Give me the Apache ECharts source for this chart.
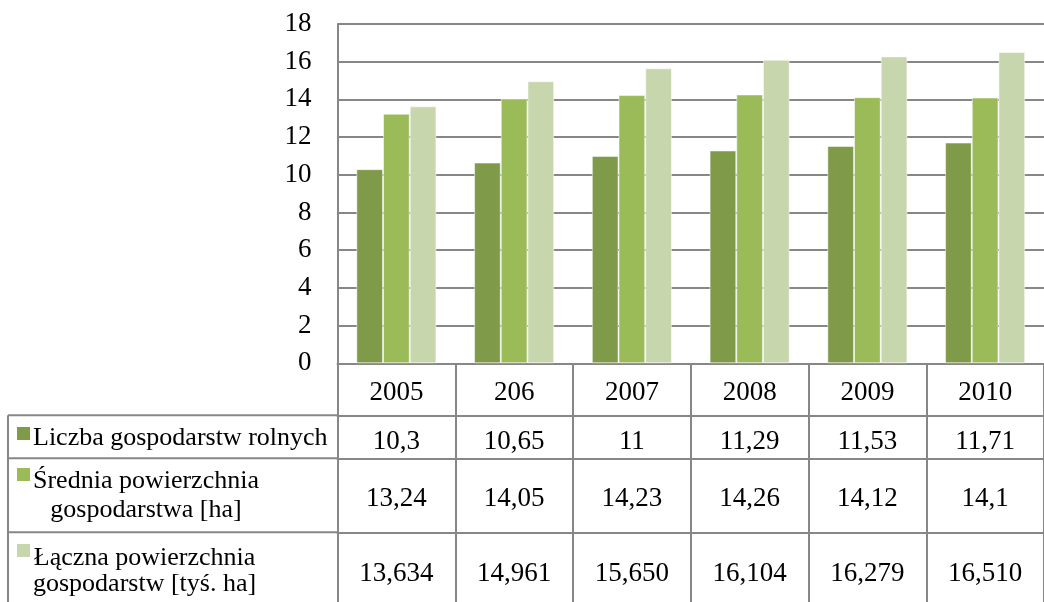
<!DOCTYPE html>
<html>
<head>
<meta charset="utf-8">
<script src="https://cdn.jsdelivr.net/npm/echarts@6/dist/echarts.min.js"></script>
<style>
html,body{margin:0;padding:0;background:#fff;}
#chart{width:1044px;height:602px;}
</style>
</head>
<body>
<div id="chart"></div>
<script>
// ---- data ----
const categories = ['2005', '206', '2007', '2008', '2009', '2010'];
const seriesNames = ['Liczba gospodarstw rolnych', 'Średnia powierzchnia gospodarstwa [ha]', 'Łączna powierzchnia gospodarstw [tyś. ha]'];
const rowLabelLines = [
  ['Liczba gospodarstw rolnych'],
  ['Średnia powierzchnia', 'gospodarstwa [ha]'],
  ['Łączna powierzchnia', 'gospodarstw [tyś. ha]']
];
const liczba = [10.3, 10.65, 11, 11.29, 11.53, 11.71];
const srednia = [13.24, 14.05, 14.23, 14.26, 14.12, 14.1];
const laczna = [13.634, 14.961, 15.650, 16.104, 16.279, 16.510];
const decimals = [null, null, 3];
const yTicks = [0, 2, 4, 6, 8, 10, 12, 14, 16, 18];

// ---- style / layout ----
const FONT = '"Liberation Serif", "Times New Roman", serif';
const FS = 26;      // row label text
const FSN = 27;     // numbers / years
const colors = ['#7F9A48', '#9BBB59', '#C7D6AD'];
const LINE = '#878787';
const GRID_LEFT = 337.5, GRID_TOP = 24, GRID_BOTTOM_Y = 363.3, GRID_RIGHT_X = 1051;
const rowTopOffsets = [52, 95, 169];      // row top line offset below axis
const rowLabelMargins = [26.5, 40.3, 41.3];
const TABLE_LEFT = 8;

const seriesData = [liczba, srednia, laczna];
function fmt(v, d) {
  const s = d == null ? String(v) : v.toFixed(d);
  return s.replace('.', ',');
}

const chart = echarts.init(document.getElementById('chart'), null, {renderer: 'canvas'});

const xAxes = [{
  type: 'category',
  data: categories,
  gridIndex: 0,
  position: 'bottom',
  boundaryGap: true,
  axisLine: {show: true, lineStyle: {color: LINE, width: 2}},
  axisTick: {show: true, interval: 0, length: 270, lineStyle: {color: LINE, width: 2}},
  axisLabel: {interval: 0, margin: 30, verticalAlign: 'middle', color: '#000', fontFamily: FONT, fontSize: FSN}
}];
seriesData.forEach((arr, i) => {
  xAxes.push({
    type: 'category',
    data: arr.map(v => fmt(v, decimals[i])),
    gridIndex: 0,
    position: 'bottom',
    offset: rowTopOffsets[i],
    boundaryGap: true,
    axisLine: {show: true, lineStyle: {color: LINE, width: 2}},
    axisTick: {show: false},
    axisLabel: {interval: 0, margin: rowLabelMargins[i], verticalAlign: 'middle', color: '#000', fontFamily: FONT, fontSize: FSN}
  });
});

const gridBottom = 602 - GRID_BOTTOM_Y;

// row label graphics
function measure(text) {
  const c = document.createElement('canvas').getContext('2d');
  c.font = FS + 'px ' + FONT;
  return c.measureText(text).width;
}
const TEXT_LEFT = 33;
const lineMiddles = [[438], [481.5, 509.8], [558, 584.6]];
const keyTops = [427, 468, 544];
const graphics = [];
const rowTopsY = rowTopOffsets.map(o => GRID_BOTTOM_Y + o);
rowTopsY.forEach(y => {
  graphics.push({type: 'line', shape: {x1: TABLE_LEFT, y1: y, x2: GRID_LEFT, y2: y}, style: {stroke: LINE, lineWidth: 2}});
});
graphics.push({type: 'line', shape: {x1: TABLE_LEFT, y1: rowTopsY[0], x2: TABLE_LEFT, y2: 640}, style: {stroke: LINE, lineWidth: 2}});
rowLabelLines.forEach((lines, i) => {
  graphics.push({type: 'rect', shape: {x: 17, y: keyTops[i], width: 13, height: 13}, style: {fill: colors[i]}});
  const w = Math.max.apply(null, lines.map(measure));
  const cx = TEXT_LEFT + w / 2;
  lines.forEach((t, j) => {
    graphics.push({type: 'text', x: cx, y: lineMiddles[i][j],
      style: {text: t, fill: '#000', font: FS + 'px ' + FONT, align: 'center', verticalAlign: 'middle'}});
  });
});

const option = {
  animation: false,
  backgroundColor: '#fff',
  grid: {left: GRID_LEFT, top: GRID_TOP, right: 1044 - GRID_RIGHT_X, bottom: gridBottom, containLabel: false},
  xAxis: xAxes,
  yAxis: {
    type: 'value',
    min: yTicks[0], max: yTicks[yTicks.length - 1], interval: yTicks[1] - yTicks[0],
    axisLine: {show: true, lineStyle: {color: LINE, width: 2}},
    axisTick: {show: false},
    splitLine: {show: true, lineStyle: {color: LINE, width: 1.8}},
    axisLabel: {margin: 26, color: '#000', fontFamily: FONT, fontSize: FSN}
  },
  series: seriesData.map((arr, i) => ({
    name: seriesNames[i],
    type: 'bar',
    xAxisIndex: 0,
    data: arr,
    barGap: '0%',
    barCategoryGap: '32%',
    itemStyle: {color: colors[i], borderColor: 'rgba(255,255,255,0.5)', borderWidth: 1}
  })),
  graphic: graphics
};
chart.setOption(option);
</script>
</body>
</html>
